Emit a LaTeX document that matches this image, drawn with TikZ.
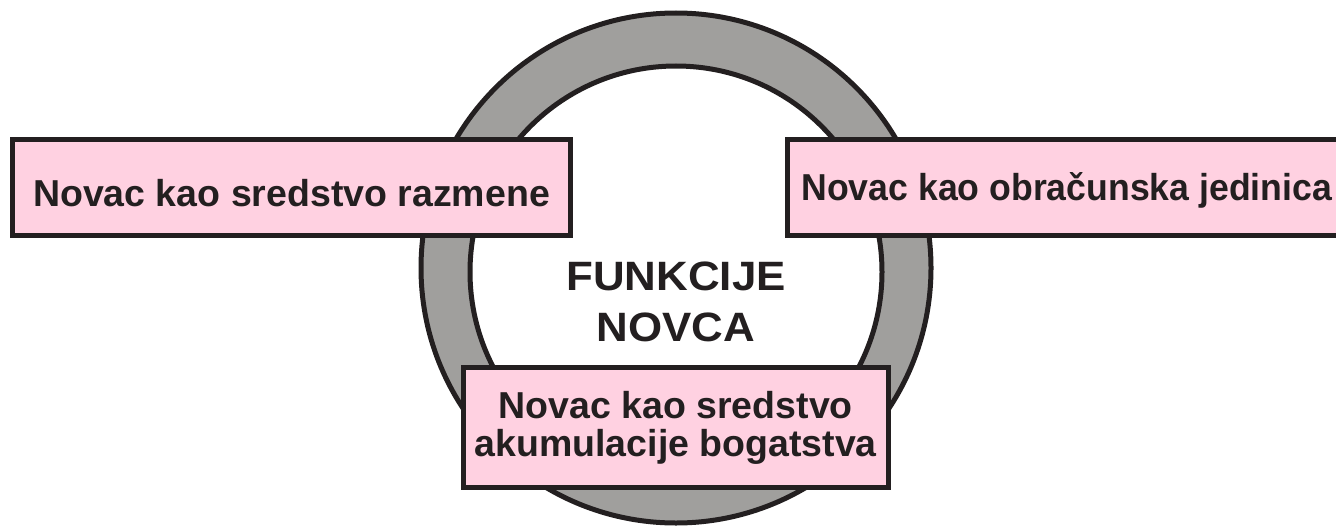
\documentclass[tikz,border=0pt]{standalone}
\usepackage{fontspec}
\setmainfont{Liberation Sans}
\definecolor{ringgray}{HTML}{A09F9D}
\definecolor{inkc}{HTML}{231F20}
\definecolor{boxpink}{HTML}{FFD1E1}
\begin{document}
\begin{tikzpicture}[x=1pt,y=-1pt,
  ringline/.style={draw=inkc, line width=5pt, circle, inner sep=0pt, outer sep=0pt},
  fbox/.style={draw=inkc, line width=5pt, fill=boxpink, inner sep=0pt, outer sep=0pt,
    text=inkc, font=\bfseries\fontsize{37.5}{38}\selectfont},
]
\useasboundingbox (0,0) rectangle (1336,527);
\clip (0,0) rectangle (1336,527);
\node[ringline, fill=ringgray, minimum size=510pt] (outer) at (676,268) {};
\node[ringline, fill=white, minimum size=412pt] (inner) at (676,272) {};
\node[inner sep=0pt, align=center, text=inkc,
  font=\bfseries\fontsize{41}{51}\selectfont\addfontfeatures{FakeStretch=1.07}]
  (title) at (676,301.8) {FUNKCIJE\\NOVCA};
\node[fbox, minimum width=558pt, minimum height=96pt, text height=66.5pt, text depth=29.5pt]
  (exchange) at (291.5,187.5) {Novac kao sredstvo razmene};
\node[fbox, anchor=north west, inner xsep=14pt, text height=61pt, text depth=35pt,
  font=\bfseries\fontsize{37.5}{38}\selectfont\addfontfeatures{FakeStretch=0.95}]
  (unit) at (787.5,139.5) {Novac kao obračunska jedinica};
\node[fbox, minimum width=424.5pt, minimum height=120pt, align=center]
  (store) at (675.75,427.5) {Novac kao sredstvo\\akumulacije bogatstva};
\end{tikzpicture}
\end{document}
